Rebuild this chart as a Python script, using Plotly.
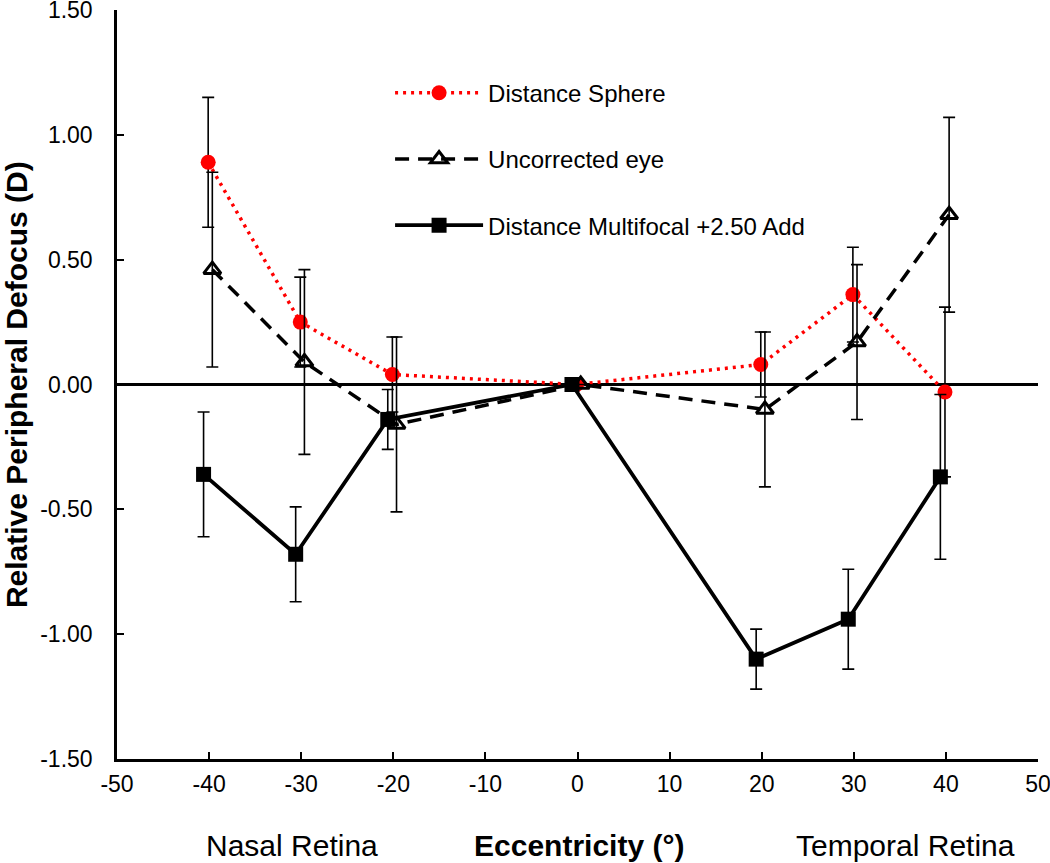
import plotly.graph_objects as go

# ---- data ----
eccentricity = [-40, -30, -20, 0, 20, 30, 40]

sphere_vals = [0.89, 0.25, 0.04, 0.00, 0.08, 0.36, -0.03]
sphere_err = [0.26, 0.18, 0.15, 0.00, 0.13, 0.19, 0.34]

uncorr_vals = [0.46, 0.09, -0.16, 0.00, -0.10, 0.17, 0.68]
uncorr_err = [0.39, 0.37, 0.35, 0.00, 0.31, 0.31, 0.39]

multi_vals = [-0.36, -0.68, -0.14, 0.00, -1.10, -0.94, -0.37]
multi_err = [0.25, 0.19, 0.12, 0.00, 0.12, 0.20, 0.33]

x_tick_vals = [-50, -40, -30, -20, -10, 0, 10, 20, 30, 40, 50]
x_tick_text = ["-50", "-40", "-30", "-20", "-10", "0", "10", "20", "30", "40", "50"]
y_tick_vals = [-1.5, -1.0, -0.5, 0.0, 0.5, 1.0, 1.5]
y_tick_text = ["-1.50", "-1.00", "-0.50", "0.00", "0.50", "1.00", "1.50"]

names = ["Distance Sphere", "Uncorrected eye", "Distance Multifocal +2.50 Add"]

# small horizontal jitter used in the original so bars don't overlap
OFF_SPHERE = -0.1
OFF_UNCORR = 0.35
OFF_MULTI = -0.6

FONT = "Liberation Sans, Arial, sans-serif"

def shift(xs, d):
    return [x + d for x in xs]

err_style = dict(type="data", visible=True, color="black", thickness=1.6, width=6)

fig = go.Figure()

fig.add_trace(go.Scatter(
    x=shift(eccentricity, OFF_SPHERE), y=sphere_vals, name=names[0],
    mode="lines+markers", legendgroup="a",
    line=dict(color="#ff0000", width=3.5, dash="3px,5px"),
    marker=dict(symbol="circle", size=15, color="#ff0000"),
    error_y=dict(array=sphere_err, **err_style),
))
fig.add_trace(go.Scatter(
    x=shift(eccentricity, OFF_UNCORR), y=uncorr_vals, name=names[1],
    mode="lines+markers", legendgroup="b",
    line=dict(color="black", width=3.5, dash="14px,9px"),
    marker=dict(symbol="triangle-up-open", size=15, color="black", line=dict(width=3, color="black")),
    error_y=dict(array=uncorr_err, **err_style),
))
fig.add_trace(go.Scatter(
    x=shift(eccentricity, OFF_MULTI), y=multi_vals, name=names[2],
    mode="lines+markers", legendgroup="c",
    line=dict(color="black", width=3.8),
    marker=dict(symbol="square", size=15, color="black"),
    error_y=dict(array=multi_err, **err_style),
))

fig.update_layout(
    width=1050, height=863,
    margin=dict(l=117, r=12, t=10, b=104),
    paper_bgcolor="white", plot_bgcolor="white",
    font=dict(family=FONT, color="black", size=23),
    showlegend=True,
    legend=dict(
        x=0.2965, y=0.919, xanchor="left", yanchor="top",
        bgcolor="rgba(0,0,0,0)", font=dict(size=24, family=FONT),
        itemwidth=88, tracegroupgap=32, traceorder="grouped",
    ),
    xaxis=dict(
        range=[-50, 50], tickvals=x_tick_vals, ticktext=x_tick_text,
        showline=True, linecolor="black", linewidth=2.5,
        ticks="inside", ticklen=7, tickwidth=2, tickcolor="black",
        showgrid=False, zeroline=False, ticklabelstandoff=3,
        automargin=False, ticklabeloverflow="allow",
        tickfont=dict(size=23, family=FONT),
    ),
    yaxis=dict(
        range=[-1.5, 1.5], tickvals=y_tick_vals, ticktext=y_tick_text,
        showline=True, linecolor="black", linewidth=2.5,
        ticks="inside", ticklen=7, tickwidth=2, tickcolor="black",
        showgrid=False, zeroline=True, zerolinecolor="black", zerolinewidth=3,
        ticklabelstandoff=17, automargin=False, ticklabeloverflow="allow",
        tickfont=dict(size=23, family=FONT),
    ),
    annotations=[
        dict(text="<b>Relative Peripheral Defocus (D)</b>", textangle=-90,
             xref="paper", yref="paper", x=-0.109, y=0.5,
             xanchor="center", yanchor="middle", showarrow=False,
             font=dict(size=30, family=FONT)),
        dict(text="Nasal Retina", xref="x", yref="paper", x=-31, y=-0.116,
             xanchor="center", yanchor="middle", showarrow=False,
             font=dict(size=30, family=FONT)),
        dict(text="<b>Eccentricity (°)</b>", xref="x", yref="paper", x=0.2, y=-0.116,
             xanchor="center", yanchor="middle", showarrow=False,
             font=dict(size=30, family=FONT)),
        dict(text="Temporal Retina", xref="x", yref="paper", x=35.6, y=-0.116,
             xanchor="center", yanchor="middle", showarrow=False,
             font=dict(size=30, family=FONT)),
    ],
)

fig.write_html("out.html", config={"displayModeBar": False},
               post_script="document.body.style.margin='0px';")
